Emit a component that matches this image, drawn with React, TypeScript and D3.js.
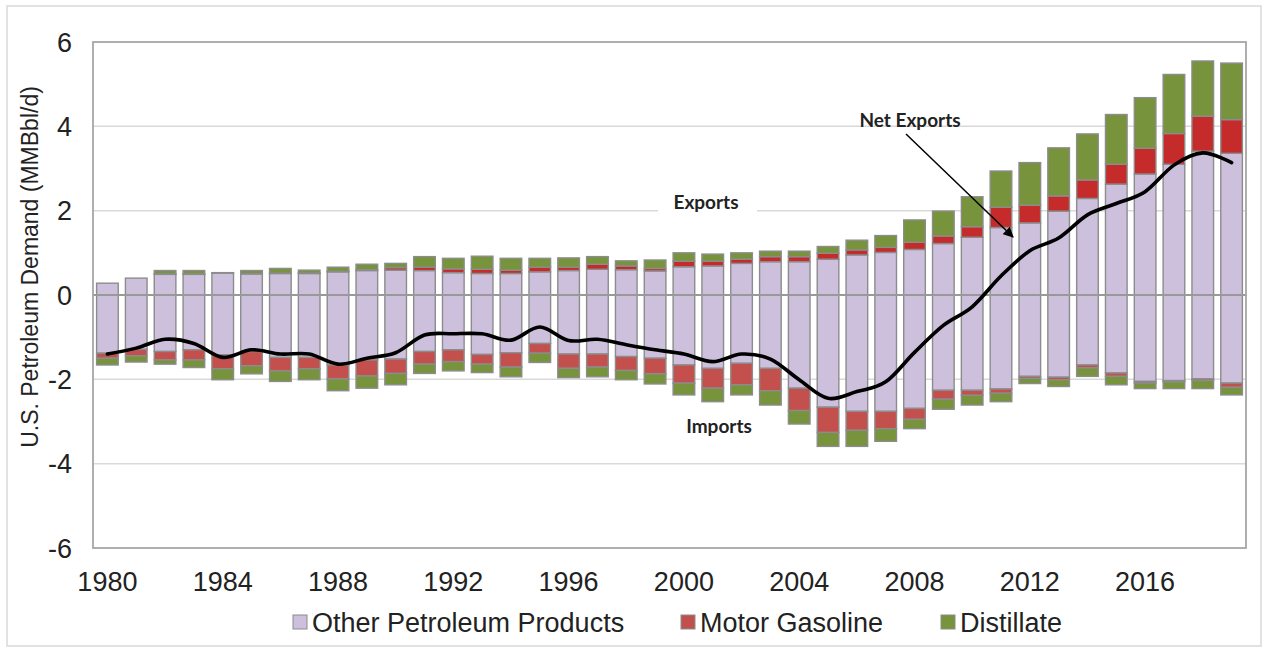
import React from 'react';
import * as d3 from 'd3';

const years = [1980, 1981, 1982, 1983, 1984, 1985, 1986, 1987, 1988, 1989, 1990, 1991, 1992, 1993, 1994, 1995, 1996, 1997, 1998, 1999, 2000, 2001, 2002, 2003, 2004, 2005, 2006, 2007, 2008, 2009, 2010, 2011, 2012, 2013, 2014, 2015, 2016, 2017, 2018, 2019];

const exportOther = [0.28, 0.40, 0.49, 0.49, 0.52, 0.50, 0.51, 0.51, 0.55, 0.58, 0.59, 0.58, 0.53, 0.51, 0.51, 0.55, 0.58, 0.61, 0.60, 0.57, 0.67, 0.69, 0.75, 0.79, 0.79, 0.85, 0.95, 1.01, 1.08, 1.22, 1.37, 1.60, 1.71, 1.99, 2.29, 2.63, 2.87, 3.10, 3.41, 3.36];
const exportGasoline = [0, 0, 0.01, 0.01, 0, 0.01, 0.01, 0.01, 0.01, 0.02, 0.06, 0.08, 0.09, 0.10, 0.08, 0.11, 0.08, 0.12, 0.09, 0.06, 0.13, 0.11, 0.10, 0.12, 0.12, 0.14, 0.12, 0.12, 0.17, 0.18, 0.25, 0.48, 0.42, 0.36, 0.44, 0.47, 0.61, 0.73, 0.83, 0.80];
const exportDistillate = [0, 0, 0.08, 0.08, 0.01, 0.07, 0.11, 0.07, 0.10, 0.13, 0.10, 0.25, 0.25, 0.31, 0.28, 0.21, 0.22, 0.18, 0.12, 0.20, 0.20, 0.17, 0.15, 0.13, 0.13, 0.16, 0.23, 0.28, 0.53, 0.59, 0.71, 0.86, 1.01, 1.14, 1.09, 1.18, 1.20, 1.40, 1.31, 1.34];

const importOther = [-1.38, -1.29, -1.34, -1.30, -1.42, -1.34, -1.48, -1.48, -1.66, -1.54, -1.52, -1.34, -1.30, -1.41, -1.37, -1.15, -1.40, -1.40, -1.46, -1.50, -1.66, -1.74, -1.62, -1.74, -2.21, -2.66, -2.76, -2.76, -2.69, -2.26, -2.26, -2.23, -1.93, -1.95, -1.66, -1.85, -2.05, -2.03, -1.99, -2.09];
const importGasoline = [-0.12, -0.15, -0.20, -0.24, -0.33, -0.34, -0.32, -0.27, -0.33, -0.38, -0.34, -0.30, -0.28, -0.23, -0.34, -0.23, -0.34, -0.31, -0.33, -0.37, -0.43, -0.47, -0.51, -0.53, -0.53, -0.60, -0.45, -0.41, -0.26, -0.21, -0.12, -0.10, -0.05, -0.06, -0.07, -0.08, -0.04, -0.03, -0.04, -0.10];
const importDistillate = [-0.16, -0.15, -0.10, -0.18, -0.26, -0.19, -0.25, -0.26, -0.28, -0.29, -0.27, -0.22, -0.22, -0.20, -0.23, -0.22, -0.22, -0.23, -0.22, -0.24, -0.28, -0.32, -0.24, -0.34, -0.32, -0.33, -0.38, -0.30, -0.22, -0.24, -0.23, -0.20, -0.12, -0.16, -0.20, -0.20, -0.13, -0.16, -0.19, -0.18];

const netExports = [-1.40, -1.26, -1.05, -1.15, -1.48, -1.30, -1.40, -1.40, -1.64, -1.50, -1.37, -0.95, -0.92, -0.92, -1.07, -0.76, -1.08, -1.05, -1.18, -1.30, -1.40, -1.58, -1.40, -1.52, -2.01, -2.45, -2.29, -2.06, -1.36, -0.72, -0.28, 0.45, 1.05, 1.35, 1.90, 2.17, 2.45, 3.08, 3.37, 3.14];

const yTicks = [-6, -4, -2, 0, 2, 4, 6];
const xTickYears = [1980, 1984, 1988, 1992, 1996, 2000, 2004, 2008, 2012, 2016];

const seriesKeys = ['eo', 'io', 'eg', 'ig', 'ed', 'id'];
const fills: Record<string, string> = {
  eo: '#CDC0DC', io: '#CDC0DC',
  eg: '#C62B2B', ig: '#C4504D',
  ed: '#77933C', id: '#77933C',
};

const legendItems = [
  { label: 'Other Petroleum Products', color: '#CDC0DC', x: 293 },
  { label: 'Motor Gasoline', color: '#C0504D', x: 681 },
  { label: 'Distillate', color: '#77933C', x: 941 },
];

const W = 1268, H = 651;
const M = { left: 93, right: 1246, top: 42, bottom: 548 };

export default function App() {
  const rows = years.map((y, i) => ({
    year: y,
    eo: exportOther[i], eg: exportGasoline[i], ed: exportDistillate[i],
    io: importOther[i], ig: importGasoline[i], id: importDistillate[i],
  }));
  const stacked = d3.stack<any>().keys(seriesKeys).offset(d3.stackOffsetDiverging)(rows);

  const x = d3.scaleBand<number>().domain(years).range([M.left, M.right]).paddingInner(0.25).paddingOuter(0.125);
  const y = d3.scaleLinear().domain([-6, 6]).range([M.bottom, M.top]);
  const cx = (yr: number) => (x(yr) as number) + x.bandwidth() / 2;

  const line = d3.line<number>()
    .x((_, i) => cx(years[i]))
    .y((d) => y(d))
    .curve(d3.curveCardinal.tension(0));

  const font = '"Liberation Sans", Arial, sans-serif';
  const boldFont = 'Lato, "Open Sans", sans-serif';

  return (
    <svg width={W} height={H} style={{ position: 'absolute', left: 0, top: 0, background: '#fff' }} xmlns="http://www.w3.org/2000/svg">
      <rect x={0} y={0} width={W} height={H} fill="#fff" />
      <rect x={7} y={6} width={1254} height={640} fill="none" stroke="#d9d9d9" strokeWidth={1.5} />
      {/* gridlines */}
      {yTicks.filter((t) => t !== 0 && Math.abs(t) !== 6).map((t) => (
        <line key={t} x1={M.left} x2={M.right} y1={y(t)} y2={y(t)} stroke="#d9d9d9" strokeWidth={1.5} />
      ))}
      {/* bars */}
      {stacked.map((s) => (
        <g key={s.key} fill={fills[s.key]} stroke="#8c8c8c" strokeWidth={1.4}>
          {s.map((d, i) => {
            const h = Math.abs(y(d[0]) - y(d[1]));
            if (h < 0.3) return null;
            return (
              <rect key={i} x={x(years[i])} width={x.bandwidth()} y={Math.min(y(d[0]), y(d[1]))} height={h} />
            );
          })}
        </g>
      ))}
      {/* zero line */}
      <line x1={M.left} x2={M.right} y1={y(0)} y2={y(0)} stroke="#999" strokeWidth={1.8} />
      {/* plot frame */}
      <rect x={M.left} y={M.top} width={M.right - M.left} height={M.bottom - M.top} fill="none" stroke="#a6a6a6" strokeWidth={1.8} />
      {/* net exports line */}
      <path d={line(netExports) || ''} fill="none" stroke="#000" strokeWidth={3.6} strokeLinejoin="round" strokeLinecap="round" />
      {/* y ticks */}
      {yTicks.map((t) => (
        <text key={t} x={72} y={y(t)} dy="0.36em" textAnchor="end" fontFamily={font} fontSize={27} fill="#222">{t}</text>
      ))}
      {/* x ticks */}
      {xTickYears.map((yr) => (
        <text key={yr} x={cx(yr)} y={591} textAnchor="middle" fontFamily={font} fontSize={27} fill="#222">{yr}</text>
      ))}
      {/* y title */}
      <text transform="translate(30,267) rotate(-90)" dy="0.36em" textAnchor="middle" fontFamily={font} fontSize={23} fill="#222">U.S. Petroleum Demand (MMBbl/d)</text>
      {/* annotations */}
      <rect x={658} y={194} width={99} height={26} fill="#fff" />
      <text x={706} y={209} textAnchor="middle" fontFamily={boldFont} fontWeight="bold" fontSize={19} fill="#222">Exports</text>
      <text x={719} y={433} textAnchor="middle" fontFamily={boldFont} fontWeight="bold" fontSize={19} fill="#222">Imports</text>
      <text x={910} y={127} textAnchor="middle" fontFamily={boldFont} fontWeight="bold" fontSize={19} fill="#222">Net Exports</text>
      <defs>
        <marker id="arr" viewBox="0 0 10 10" refX="9" refY="5" markerWidth="7" markerHeight="7" orient="auto">
          <path d="M0,0 L10,5 L0,10 z" fill="#000" />
        </marker>
      </defs>
      <line x1={906} y1={134} x2={1013} y2={237} stroke="#000" strokeWidth={1.5} markerEnd="url(#arr)" />
      {/* legend */}
      {legendItems.map((it) => (
        <g key={it.label}>
          <rect x={it.x} y={615} width={14} height={14} fill={it.color} stroke="#8c8c8c" strokeWidth={1} />
          <text x={it.x + 19} y={632} fontFamily={font} fontSize={27} fill="#222">{it.label}</text>
        </g>
      ))}
    </svg>
  );
}
